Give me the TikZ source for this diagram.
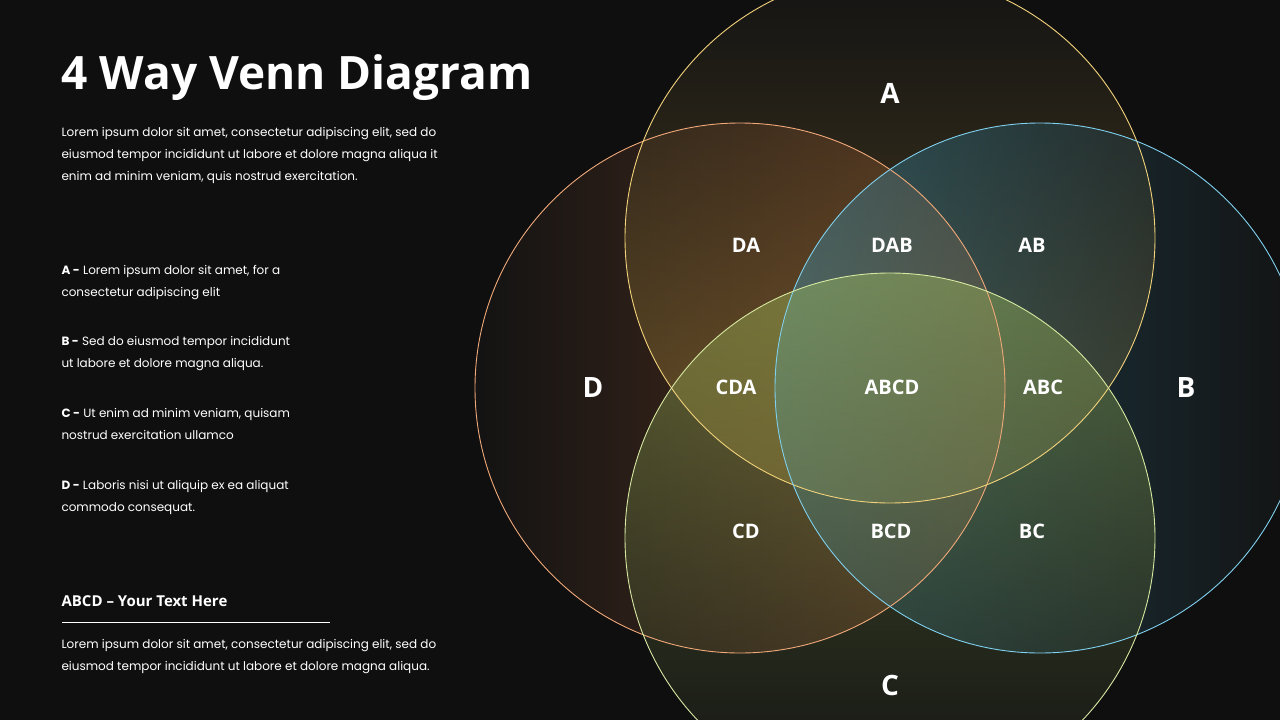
\documentclass[tikz,border=0pt]{standalone}
\usepackage{fontspec}
\setmainfont{Poppins}
\newfontfamily\headfont{Open Sans}
\definecolor{bg}{HTML}{0F0F0F}
\definecolor{cA}{HTML}{F2D27A}
\definecolor{cB}{HTML}{7FD0EE}
\definecolor{cC}{HTML}{D6E8A2}
\definecolor{cD}{HTML}{F0A878}
\definecolor{fA}{HTML}{C09A40}
\definecolor{fB}{HTML}{3A9CC0}
\definecolor{fC}{HTML}{A8C860}
\definecolor{fD}{HTML}{D8703A}
\definecolor{dk}{HTML}{1A1A1A}
\begin{document}
\begin{tikzpicture}[x=1pt,y=-1pt,
  vc/.style={circle,minimum size=530pt,inner sep=0pt,line width=0.9pt},
  lab/.style={text=white,font=\headfont\bfseries\fontsize{20}{20}\selectfont},
  big/.style={text=white,font=\headfont\bfseries\fontsize{28}{28}\selectfont},
  body/.style={text=white,anchor=north west,align=left,font=\fontsize{12}{22}\selectfont}]
\fill[bg] (0,0) rectangle (1280,720);
\useasboundingbox (0,0) rectangle (1280,720);
\begin{scope}
\clip (0,0) rectangle (1280,720);
\node[vc,left color=dk,right color=fD,fill opacity=0.4] (D) at (740,388) {};
\node[vc,top color=dk,bottom color=fA,fill opacity=0.4] (A) at (890,238) {};
\node[vc,left color=fB,right color=dk,fill opacity=0.4] (B) at (1040,388) {};
\node[vc,top color=fC,bottom color=dk,fill opacity=0.4] (C) at (890,538) {};
\node[vc,draw=cD] at (D) {};
\node[vc,draw=cA] at (A) {};
\node[vc,draw=cB] at (B) {};
\node[vc,draw=cC] at (C) {};
\end{scope}
\node[big] (tA) at (890,93) {A};
\node[big] (tB) at (1186,388) {B};
\node[big] (tC) at (890,685) {C};
\node[big] (tD) at (593,388) {D};
\node[lab] (l1) at (746,245) {DA};
\node[lab] (l2) at (892,245) {DAB};
\node[lab] (l3) at (1032,245) {AB};
\node[lab] (l4) at (736,387) {CDA};
\node[lab] (l5) at (892,387) {ABCD};
\node[lab] (l6) at (1043,387) {ABC};
\node[lab] (l7) at (746,531) {CD};
\node[lab] (l8) at (891,531) {BCD};
\node[lab] (l9) at (1032,531) {BC};
\node[text=white,anchor=west,font=\headfont\bfseries\fontsize{46}{46}\selectfont] (title) at (58,78) {4 Way Venn Diagram};
\node[body] (p1) at (58,124) {Lorem ipsum dolor sit amet, consectetur adipiscing elit, sed do\\eiusmod tempor incididunt ut labore et dolore magna aliqua it\\enim ad minim veniam, quis nostrud exercitation.};
\node[body] (pa) at (58,262) {\textbf{A -} Lorem ipsum dolor sit amet, for a\\consectetur adipiscing elit};
\node[body] (pb) at (58,333) {\textbf{B -} Sed do eiusmod tempor incididunt\\ut labore et dolore magna aliqua.};
\node[body] (pc) at (58,405) {\textbf{C -} Ut enim ad minim veniam, quisam\\nostrud exercitation ullamco};
\node[body] (pd) at (58,477) {\textbf{D -} Laboris nisi ut aliquip ex ea aliquat\\commodo consequat.};
\node[text=white,anchor=west,font=\headfont\bfseries\fontsize{15}{15}\selectfont] (h2) at (58,601) {ABCD – Your Text Here};
\coordinate (r1) at (62,622);
\coordinate (r2) at (330,622);
\draw[white,line width=0.8pt] (r1) -- (r2);
\node[body] (p2) at (58,636) {Lorem ipsum dolor sit amet, consectetur adipiscing elit, sed do\\eiusmod tempor incididunt ut labore et dolore magna aliqua.};
\end{tikzpicture}
\end{document}
